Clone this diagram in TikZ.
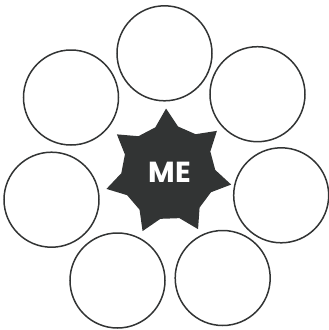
\documentclass[tikz,border=0pt]{standalone}
\usepackage{fontspec}
\newfontfamily\mefont{Poppins}[UprightFont=* Bold]
\definecolor{ink}{RGB}{50,52,52}
\begin{document}
\begin{tikzpicture}[x=1pt,y=-1pt,
  ring/.style={circle,draw=ink,line width=1.5pt,minimum size=95pt,inner sep=0pt},
  metext/.style={text=white,font=\mefont\fontsize{29}{29}\selectfont,inner sep=0pt}]
\useasboundingbox (0,0) rectangle (329,330);
\node[ring] (top) at (164.5,53.3) {};
\node[ring] (ur) at (257.5,94.2) {};
\node[ring] (rt) at (281.2,195.3) {};
\node[ring] (br) at (222.7,278) {};
\node[ring] (bl) at (117.5,280.5) {};
\node[ring] (lt) at (51.5,199.7) {};
\node[ring] (ul) at (71,97.5) {};
% star
\begin{scope}[shift={(168.3,172.5)},y=1pt]
\fill[ink]
  \foreach \k [count=\i from 0] in {0,...,6} {
    \pgfextra{\pgfmathsetmacro\t{92+\k*360/7}}
    \ifnum\i=0 (\t-14:47) \else -- (\t-14:47) \fi
    -- (\t:64) -- (\t+14:47)
  } -- cycle;
\end{scope}
\node[metext] (me) at (170,172) {ME};
\end{tikzpicture}
\end{document}
